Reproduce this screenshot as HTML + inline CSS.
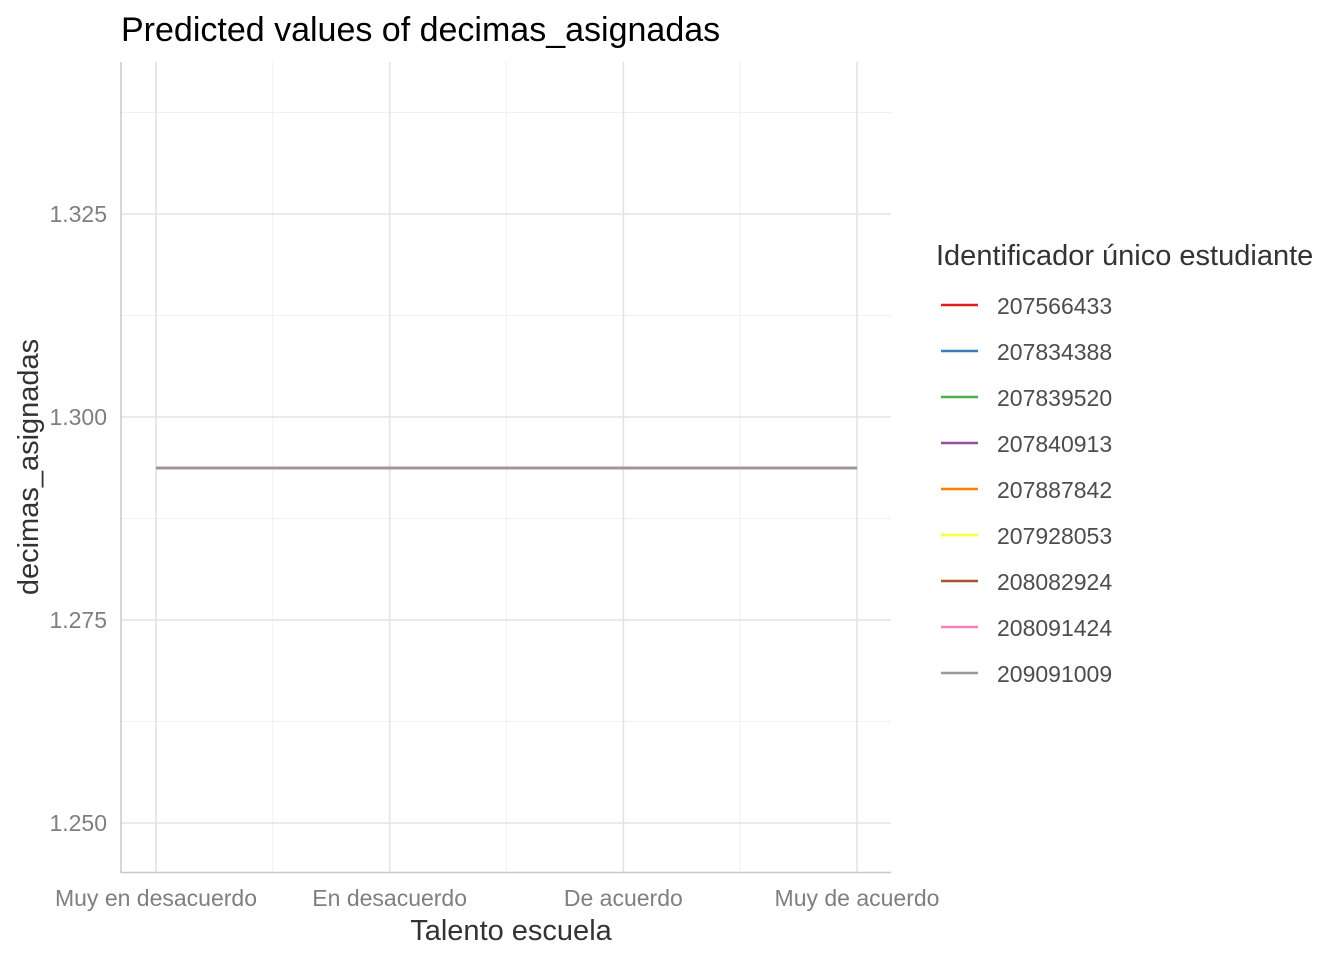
<!DOCTYPE html>
<html><head><meta charset="utf-8"><style>
body{margin:0;background:#fff;font-family:"Liberation Sans",Arial,sans-serif}
</style></head><body>
<svg id="chart" width="1344" height="960" xmlns="http://www.w3.org/2000/svg" font-family="Liberation Sans, Arial, sans-serif">
<text x="121" y="41" font-size="34" fill="#000">Predicted values of decimas_asignadas</text>
<g id="grid"></g>
<g id="series"></g>
<line x1="121" y1="62" x2="121" y2="873" stroke="#c8c8c8" stroke-width="1.5"/>
<line x1="121" y1="872.5" x2="891" y2="872.5" stroke="#c8c8c8" stroke-width="1.5"/>
<g id="ticks"></g>
<text x="511" y="940" font-size="29" fill="#333" text-anchor="middle">Talento escuela</text>
<text transform="translate(38,467) rotate(-90)" font-size="29" fill="#333" text-anchor="middle">decimas_asignadas</text>
<text x="936" y="265" font-size="29" fill="#333">Identificador único estudiante</text>
<g id="legend"></g>
</svg>
<script>
const categories=["Muy en desacuerdo","En desacuerdo","De acuerdo","Muy de acuerdo"];
const yTicks=[1.250,1.275,1.300,1.325];
const seriesIds=["207566433","207834388","207839520","207840913","207887842","207928053","208082924","208091424","209091009"];
const seriesColors=["#e41a1c","#377eb8","#4daf4a","#984ea3","#ff7f00","#ffff33","#a65628","#f781bf","#999999"];
const seriesValues=[
[1.2937,1.2937,1.2937,1.2937],[1.2937,1.2937,1.2937,1.2937],[1.2937,1.2937,1.2937,1.2937],
[1.2937,1.2937,1.2937,1.2937],[1.2937,1.2937,1.2937,1.2937],[1.2937,1.2937,1.2937,1.2937],
[1.2937,1.2937,1.2937,1.2937],[1.2937,1.2937,1.2937,1.2937],[1.2937,1.2937,1.2937,1.2937]];
const NS="http://www.w3.org/2000/svg";
const xS=i=>156+i*233.67;
const yS=v=>417-(v-1.3)/0.025*203;
function mk(t,a,p){const e=document.createElementNS(NS,t);for(const k in a)e.setAttribute(k,a[k]);p.appendChild(e);return e;}
const grid=document.getElementById('grid'),ticks=document.getElementById('ticks');
for(let i=0;i<yTicks.length+1;i++){const v=yTicks[0]-0.0125+i*0.025;const y=yS(v);if(y<62||y>872)continue;
const l=mk('line',{x1:121,x2:891,y1:y,y2:y,stroke:'#f0f0f0','stroke-width':1},grid);

}
for(let i=0;i<categories.length-1;i++){const x=(xS(i)+xS(i+1))/2;
const l=mk('line',{x1:x,x2:x,y1:62,y2:872,stroke:'#f0f0f0','stroke-width':1},grid);

}
yTicks.forEach(v=>{const y=yS(v);
const l=mk('line',{x1:121,x2:891,y1:y,y2:y,stroke:'#e3e3e3','stroke-width':1.6},grid);


const t=mk('text',{x:107,y:y+8,'font-size':23,fill:'#7f7f7f','text-anchor':'end'},ticks);t.textContent=v.toFixed(3);

});
categories.forEach((c,i)=>{const x=xS(i);
const l=mk('line',{x1:x,x2:x,y1:62,y2:872,stroke:'#e3e3e3','stroke-width':1.6},grid);


const t=mk('text',{x:x,y:906,'font-size':23,fill:'#7f7f7f','text-anchor':'middle'},ticks);t.textContent=c;

});
const sg=document.getElementById('series'),lg=document.getElementById('legend');
seriesIds.forEach((id,s)=>{
const pts=seriesValues[s].map((v,i)=>xS(i)+','+yS(v)).join(' ');
const p=mk('polyline',{points:pts,fill:'none',stroke:seriesColors[s],'stroke-width':2.5},sg);


const y=305+s*46;
const l=mk('line',{x1:941,x2:978,y1:y,y2:y,stroke:seriesColors[s],'stroke-width':2.5},lg);


const t=mk('text',{x:997,y:y+9,'font-size':23,fill:'#4d4d4d'},lg);t.textContent=id;


});
</script>
</body></html>
